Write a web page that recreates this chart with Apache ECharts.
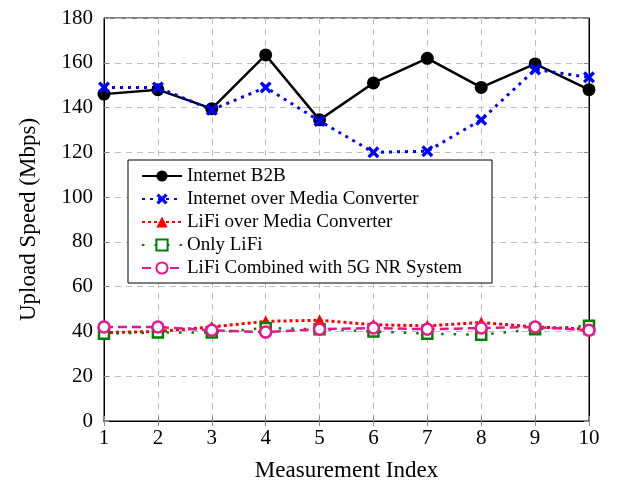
<!DOCTYPE html>
<html>
<head>
<meta charset="utf-8">
<script src="https://cdn.jsdelivr.net/npm/echarts@6/dist/echarts.min.js"></script>
<style>
html,body{margin:0;padding:0;background:#fff;}
#chart{width:623px;height:487px;}
</style>
</head>
<body>
<div id="chart"></div>
<script>
// ---- data ----
const measurementIndex = [1, 2, 3, 4, 5, 6, 7, 8, 9, 10];
const internetB2B = [146, 148, 139.5, 163.5, 134.5, 151, 162, 149, 159.5, 148];
const internetMediaConverter = [149, 149, 139, 149, 134, 120, 120.5, 134.5, 157, 153.5];
const lifiMediaConverter = [39.5, 40, 42, 44.5, 45, 43, 42.5, 44, 42, 41];
const onlyLiFi = [39, 39.5, 39.5, 41.5, 41, 40, 39, 38.5, 41, 42.5];
const lifi5GNR = [42, 42, 40.5, 39.7, 41, 41.5, 41, 41.5, 42, 40.5];
const seriesNames = ['Internet B2B', 'Internet over Media Converter', 'LiFi over Media Converter', 'Only LiFi', 'LiFi Combined with 5G NR System'];
const yTicks = {min: 0, max: 180, interval: 20};
const xTicks = {min: 1, max: 10, interval: 1};

const FONT = 'Liberation Serif';
const pair = arr => measurementIndex.map((x, i) => [x, arr[i]]);
const crossPath = 'path://M0,2 L2,0 L5,3 L8,0 L10,2 L7,5 L10,8 L8,10 L5,7 L2,10 L0,8 L3,5 Z';

const chart = echarts.init(document.getElementById('chart'), null, {renderer: 'canvas'});

const gridLine = {show: true, lineStyle: {color: '#c0c0c0', type: [6, 5], width: 1}};

chart.setOption({
  animation: false,
  backgroundColor: '#fff',
  grid: {left: 104, right: 34, top: 18, bottom: 65, show: true, borderColor: '#000', borderWidth: 1},
  xAxis: [{
    type: 'value', min: xTicks.min, max: xTicks.max, interval: xTicks.interval,
    name: 'Measurement Index', nameLocation: 'middle', nameGap: 38,
    nameTextStyle: {fontFamily: FONT, fontSize: 23, color: '#000'},
    axisLine: {show: true, onZero: false, lineStyle: {color: '#000', width: 1}},
    axisTick: {show: true, inside: true, length: 5, lineStyle: {color: '#888'}},
    axisLabel: {fontFamily: FONT, fontSize: 21, color: '#000', margin: 7},
    splitLine: gridLine
  }, {
    type: 'value', position: 'top', min: xTicks.min, max: xTicks.max, interval: xTicks.interval,
    axisLine: {show: true, lineStyle: {color: '#000'}},
    axisTick: {show: true, inside: true, length: 5, lineStyle: {color: '#888'}},
    axisLabel: {show: false}, splitLine: {show: false}
  }],
  yAxis: [{
    type: 'value', min: yTicks.min, max: yTicks.max, interval: yTicks.interval,
    name: 'Upload Speed (Mbps)', nameLocation: 'middle', nameGap: 64,
    nameTextStyle: {fontFamily: FONT, fontSize: 23, color: '#000'},
    axisLine: {show: true, onZero: false, lineStyle: {color: '#000', width: 1}},
    axisTick: {show: true, inside: true, length: 5, lineStyle: {color: '#888'}},
    axisLabel: {fontFamily: FONT, fontSize: 21, color: '#000', margin: 11},
    splitLine: gridLine
  }, {
    type: 'value', position: 'right', min: yTicks.min, max: yTicks.max, interval: yTicks.interval,
    axisLine: {show: true, lineStyle: {color: '#000'}},
    axisTick: {show: true, inside: true, length: 5, lineStyle: {color: '#888'}},
    axisLabel: {show: false}, splitLine: {show: false}
  }],
  legend: {
    orient: 'vertical', left: 128, top: 160,
    data: seriesNames,
    itemWidth: 40, itemHeight: 14, itemGap: 3,
    padding: [6, 30, 5, 13],
    backgroundColor: '#fff', borderColor: '#000', borderWidth: 1, borderRadius: 0,
    textStyle: {fontFamily: FONT, fontSize: 19, color: '#000', lineHeight: 20},
    selectedMode: false
  },
  series: [
    {
      name: seriesNames[0], type: 'line', data: pair(internetB2B),
      symbol: 'circle', symbolSize: 13,
      lineStyle: {color: '#000', width: 2.5, type: 'solid'},
      itemStyle: {color: '#000'}
    },
    {
      name: seriesNames[1], type: 'line', data: pair(internetMediaConverter),
      symbol: crossPath, symbolSize: 12,
      lineStyle: {color: '#0000ff', width: 3, type: [3, 5], cap: 'butt'},
      itemStyle: {color: '#0000ff'}
    },
    {
      name: seriesNames[2], type: 'line', data: pair(lifiMediaConverter),
      symbol: 'triangle', symbolSize: 12,
      lineStyle: {color: '#ff0000', width: 3, type: [3, 3]},
      itemStyle: {color: '#ff0000'}
    },
    {
      name: seriesNames[3], type: 'line', data: pair(onlyLiFi),
      symbol: 'rect', symbolSize: 10,
      lineStyle: {color: '#008000', width: 2.5, type: [2.5, 10]},
      itemStyle: {color: '#fff', borderColor: '#008000', borderWidth: 2.5}
    },
    {
      name: seriesNames[4], type: 'line', data: pair(lifi5GNR),
      symbol: 'circle', symbolSize: 11,
      lineStyle: {color: '#e8168c', width: 2.5, type: [9, 5]},
      itemStyle: {color: '#fff', borderColor: '#e8168c', borderWidth: 2.5}
    }
  ]
});
</script>
</body>
</html>
